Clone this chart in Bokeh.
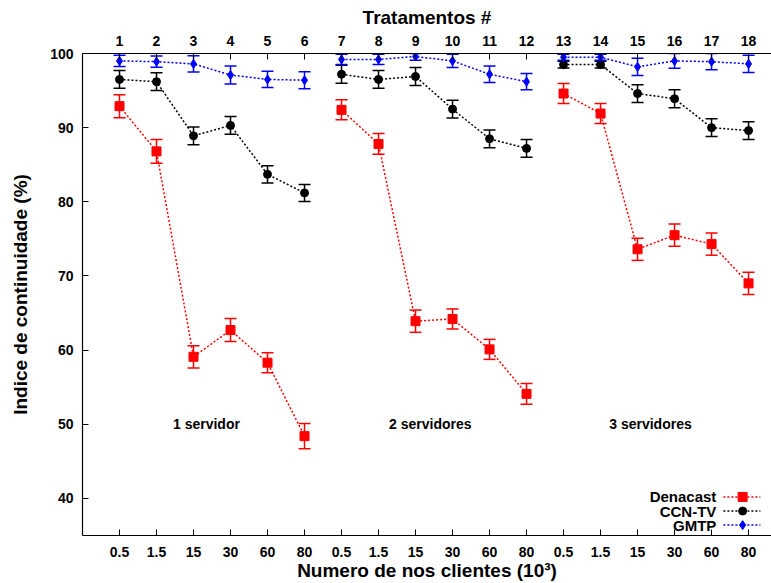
from bokeh.plotting import figure
from bokeh.models import (Range1d, LinearAxis, FixedTicker, Whisker, ColumnDataSource,
                          TeeHead, Label)
from bokeh.core.properties import value
from bokeh.embed import file_html
from bokeh.resources import INLINE

# ---------------- data ----------------
treatments = list(range(1, 19))
client_labels = ["0.5", "1.5", "15", "30", "60", "80"] * 3

denacast = [92.9, 86.8, 59.1, 62.7, 58.3, 48.4,
            92.4, 87.8, 63.9, 64.2, 60.1, 54.1,
            94.6, 91.9, 73.6, 75.5, 74.3, 69.0]
denacast_err = [1.55, 1.6, 1.5, 1.55, 1.35, 1.7,
                1.35, 1.4, 1.5, 1.35, 1.35, 1.4,
                1.35, 1.35, 1.5, 1.5, 1.5, 1.5]

ccntv = [96.5, 96.2, 88.9, 90.3, 83.7, 81.2,
         97.2, 96.5, 96.9, 92.5, 88.5, 87.2,
         98.5, 98.5, 94.6, 93.9, 90.0, 89.6]
ccntv_err = [1.2, 1.2, 1.2, 1.2, 1.15, 1.15,
             1.2, 1.2, 1.2, 1.2, 1.2, 1.2,
             0.45, 0.45, 1.2, 1.2, 1.2, 1.2]

gmtp = [99.0, 98.9, 98.6, 97.1, 96.5, 96.4,
        99.2, 99.2, 99.6, 99.0, 97.2, 96.2,
        99.5, 99.5, 98.2, 99.0, 98.9, 98.6]
gmtp_err = [0.75, 0.75, 1.1, 1.2, 1.1, 1.15,
            0.7, 0.7, 0.5, 0.9, 1.1, 1.1,
            0.4, 0.4, 1.15, 1.0, 1.1, 1.15]

series_names = ["Denacast", "CCN-TV", "GMTP"]
group_labels = ["1 servidor", "2 servidores", "3 servidores"]
group_label_x = [3.35, 9.4, 15.35]
group_label_y = [50.0, 50.0, 50.0]

# ---------------- style ----------------
FONT = "Liberation Sans"
Y_MAX = 100.0

p = figure(width=771, height=583, output_backend="svg", toolbar_location=None,
           x_range=Range1d(0, 18.62), y_range=Range1d(35, 100),
           min_border_left=82, min_border_right=0, min_border_top=53,
           min_border_bottom=48)
p.outline_line_color = None
p.xgrid.visible = False
p.ygrid.visible = False
p.background_fill_color = "white"
p.border_fill_color = "white"


def style_axis(ax):
    ax.axis_line_color = "black"
    ax.axis_line_width = 1.2
    ax.major_tick_in = 6
    ax.major_tick_out = 0
    ax.minor_tick_in = 0
    ax.minor_tick_out = 0
    ax.major_tick_line_color = "black"
    ax.major_label_text_font = FONT
    ax.major_label_text_font_style = "bold"
    ax.major_label_text_font_size = "14px"
    ax.major_label_text_color = "black"
    ax.axis_label_text_font = FONT
    ax.axis_label_text_font_style = "bold"
    ax.axis_label_text_font_size = "19px"
    ax.axis_label_text_color = "black"


# bottom axis
xa = p.xaxis[0]
xa.ticker = FixedTicker(ticks=treatments)
xa.major_label_overrides = {t: lab for t, lab in zip(treatments, client_labels)}
xa.axis_label = "Numero de nos clientes (10\u00b3)"
style_axis(xa)
xa.major_label_standoff = 11
xa.axis_label_standoff = 0

# left axis
ya = p.yaxis[0]
ya.ticker = FixedTicker(ticks=[40, 50, 60, 70, 80, 90, 100])
ya.axis_label = "Indice de continuidade (%)"
style_axis(ya)
ya.major_label_standoff = 9
ya.axis_label_standoff = 16

# top axis
top = LinearAxis(ticker=FixedTicker(ticks=treatments), axis_label="Tratamentos #")
style_axis(top)
top.major_label_standoff = 8
top.axis_label_standoff = 5
p.add_layout(top, "above")

# ---------------- series ----------------
series = [
    (denacast, denacast_err, "#ff0000", "square", 9),
    (ccntv, ccntv_err, "black", "circle", 8),
    (gmtp, gmtp_err, "#0000ff", "diamond", 9),
]

for vals, errs, color, marker, size in series:
    src = ColumnDataSource(dict(
        x=treatments, y=vals,
        upper=[min(v + e, Y_MAX) for v, e in zip(vals, errs)],
        lower=[v - e for v, e in zip(vals, errs)],
    ))
    # connect points within each group of 6
    for g in range(3):
        sl = slice(6 * g, 6 * g + 6)
        p.line(treatments[sl], vals[sl], line_color=color, line_dash="2 2",
               line_width=1.5)
    w = Whisker(source=src, base="x", upper="upper", lower="lower",
                line_color=color, line_width=1.5,
                upper_head=TeeHead(size=12, line_color=color, line_width=1.5),
                lower_head=TeeHead(size=12, line_color=color, line_width=1.5))
    p.add_layout(w)
    p.scatter("x", "y", source=src, marker=marker, size=size,
              fill_color=color, line_color=color)

# group labels
p.text(x=group_label_x, y=group_label_y, text=group_labels,
       text_font=value(FONT), text_font_style="bold", text_font_size="14px",
       text_align="center", text_baseline="middle", text_color="black")

# ---------------- manual legend (text left, sample right) ----------------
LEG_TEXT_X = 17.13
LEG_X0, LEG_XM, LEG_X1 = 17.32, 17.84, 18.32
LEG_Y = [40.2, 38.3, 36.4]
for (vals, errs, color, marker, size), name, ly in zip(series, series_names, LEG_Y):
    p.add_layout(Label(x=LEG_TEXT_X, y=ly, text=name, text_align="right",
                       text_baseline="middle", text_font=FONT,
                       text_font_style="bold", text_font_size="15px",
                       text_color="black"))
    p.line([LEG_X0, LEG_X1], [ly, ly], line_color=color, line_dash="2 2",
           line_width=1.5)
    p.scatter([LEG_XM], [ly], marker=marker, size=size, fill_color=color,
              line_color=color)

open("out.html", "w").write(file_html(p, INLINE))
